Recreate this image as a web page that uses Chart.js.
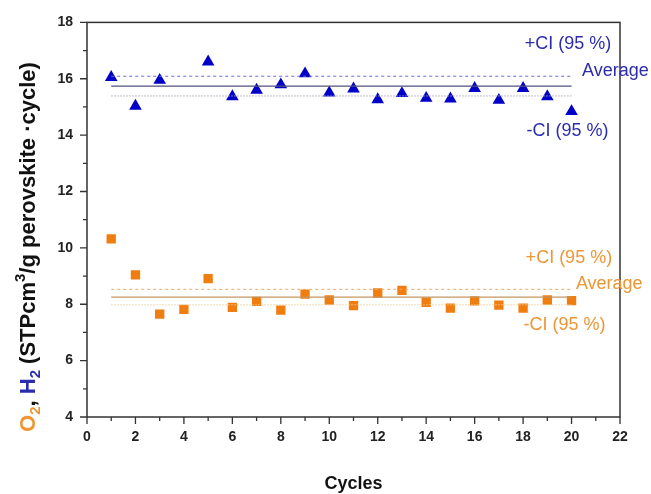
<!DOCTYPE html>
<html><head><meta charset="utf-8">
<script src="https://cdn.jsdelivr.net/npm/chart.js@4.4.0/dist/chart.umd.min.js"></script>
<style>html,body{margin:0;padding:0;background:#fff;}#wrap{width:651px;height:494px;}</style>
</head><body><div id="wrap"><canvas id="c" width="651" height="494"></canvas></div>
<script>
// ---- data ----
const cycles = [1,2,3,4,5,6,7,8,9,10,11,12,13,14,15,16,17,18,19,20];
const h2Values = [16.05,15.03,15.95,null,16.60,15.37,15.60,15.79,16.18,15.50,15.64,15.26,15.48,15.31,15.29,15.66,15.24,15.66,15.37,14.84];
const o2Values = [10.32,9.04,7.65,7.82,8.91,7.89,8.10,7.79,8.36,8.15,7.95,8.40,8.49,8.07,7.86,8.12,7.97,7.86,8.15,8.13];
const h2Stats = [16.09, 15.74, 15.39];   // +CI, average, -CI
const o2Stats = [8.53, 8.25, 7.98];
const statRange = [1, 20];
const xTicks = [0,2,4,6,8,10,12,14,16,18,20,22];
const yTicks = [4,6,8,10,12,14,16,18];
const statLabels = ['+CI (95 %)', 'Average', '-CI (95 %)'];
const xTitle = 'Cycles';

const BLUE = '#0000c8', BLUE_TXT = '#2c2cae';
const ORANGE = '#f07d10', ORANGE_TXT = '#ec9636';
const FONT = '"Liberation Sans", Arial, sans-serif';

function pts(vals){ return cycles.map((c,i)=>({x:c,y:vals[i]})); }
function hline(v){ return [{x:statRange[0],y:v},{x:statRange[1],y:v}]; }

const lineStyles = [
  {dash:[3,3], width:1},
  {dash:[], width:1.2},
  {dash:[1.5,1.5], width:1}
];
const h2LineColors = ['#6c6cd8','#505080','#a8a8b8'];
const o2LineColors = ['#f2a860','#c49660','#f2cc98'];

const datasets = [];
h2Stats.forEach((v,i)=>datasets.push({type:'line',data:hline(v),borderColor:h2LineColors[i],borderWidth:lineStyles[i].width,borderDash:lineStyles[i].dash,pointRadius:0,fill:false}));
o2Stats.forEach((v,i)=>datasets.push({type:'line',data:hline(v),borderColor:o2LineColors[i],borderWidth:lineStyles[i].width,borderDash:lineStyles[i].dash,pointRadius:0,fill:false}));
datasets.push({type:'scatter',data:pts(h2Values),pointStyle:'triangle',pointRadius:7.3,backgroundColor:BLUE,borderColor:BLUE,borderWidth:0});
datasets.push({type:'scatter',data:pts(o2Values),pointStyle:'rect',pointRadius:6.6,backgroundColor:ORANGE,borderColor:ORANGE,borderWidth:0});

// annotation text positions (data units)
const labelPlaces = [
  {text:statLabels[0], x:19.85, y:17.22, color:BLUE_TXT, align:'center'},
  {text:statLabels[1], x:20.43, y:16.27, color:BLUE_TXT, align:'left'},
  {text:statLabels[2], x:19.83, y:14.16, color:BLUE_TXT, align:'center'},
  {text:statLabels[0], x:19.89, y:9.64, color:ORANGE_TXT, align:'center'},
  {text:statLabels[1], x:20.18, y:8.73, color:ORANGE_TXT, align:'left'},
  {text:statLabels[2], x:19.71, y:7.28, color:ORANGE_TXT, align:'center'}
];

const decor = {
  id:'decor',
  afterDatasetsDraw(chart){
    const {ctx, chartArea:a, scales:{x,y}} = chart;
    ctx.save();
    // frame
    ctx.strokeStyle='#333'; ctx.lineWidth=1.5;
    ctx.strokeRect(a.left, a.top, a.right-a.left, a.bottom-a.top);
    // ticks
    ctx.lineWidth=1.3;
    ctx.beginPath();
    for(let v=x.min; v<=x.max; v++){
      const px=x.getPixelForValue(v); const L = xTicks.includes(v)?7:4;
      ctx.moveTo(px,a.bottom); ctx.lineTo(px,a.bottom+L);
    }
    for(let v=y.min; v<=y.max; v++){
      const py=y.getPixelForValue(v); const L = yTicks.includes(v)?7:4;
      ctx.moveTo(a.left,py); ctx.lineTo(a.left-L,py);
    }
    ctx.stroke();
    // annotation labels
    ctx.font='18px '+FONT; ctx.textBaseline='middle';
    labelPlaces.forEach(l=>{
      ctx.fillStyle=l.color; ctx.textAlign=l.align;
      ctx.fillText(l.text, x.getPixelForValue(l.x), y.getPixelForValue(l.y));
    });
    // x title
    ctx.fillStyle='#111'; ctx.font='bold 18px '+FONT; ctx.textAlign='center';
    ctx.fillText(xTitle, (a.left+a.right)/2, 484);
    // y title (multi-colour, rotated)
    const segs = [
      {t:'O', c:ORANGE_TXT, s:0}, {t:'2', c:ORANGE_TXT, s:-1},
      {t:', ', c:'#111', s:0},
      {t:'H', c:BLUE_TXT, s:0}, {t:'2', c:BLUE_TXT, s:-1},
      {t:' (STPcm', c:'#111', s:0}, {t:'3', c:'#111', s:1},
      {t:'/g perovskite \u00b7cycle)', c:'#111', s:0}
    ];
    const big='bold 22px '+FONT, small='bold 15px '+FONT;
    let total=0;
    segs.forEach(g=>{ctx.font=g.s?small:big; g.w=ctx.measureText(g.t).width; total+=g.w;});
    ctx.translate(35, 247); ctx.rotate(-Math.PI/2);
    ctx.textAlign='left'; ctx.textBaseline='alphabetic';
    let cx=-total/2;
    segs.forEach(g=>{
      ctx.font=g.s?small:big; ctx.fillStyle=g.c;
      const dy = g.s===-1?5:(g.s===1?-10:0);
      ctx.fillText(g.t, cx, dy); cx+=g.w;
    });
    ctx.restore();
  }
};

new Chart(document.getElementById('c'), {
  data:{datasets},
  options:{
    responsive:false, animation:false, devicePixelRatio:1,
    layout:{padding:{top:20,right:31,left:0,bottom:0}},
    plugins:{legend:{display:false}, tooltip:{enabled:false}},
    scales:{
      x:{type:'linear', min:0, max:22,
        afterBuildTicks(s){ s.ticks = xTicks.map(v=>({value:v})); },
        ticks:{font:{family:FONT,size:14,weight:'bold'}, color:'#222', padding:12, maxRotation:0},
        grid:{display:false, drawTicks:false, tickLength:0}, border:{display:false},
        afterFit(s){ s.height=77; }},
      y:{type:'linear', min:4, max:18,
        afterBuildTicks(s){ s.ticks = yTicks.map(v=>({value:v})); },
        ticks:{font:{family:FONT,size:14,weight:'bold'}, color:'#222', padding:14},
        grid:{display:false, drawTicks:false, tickLength:0}, border:{display:false},
        afterFit(s){ s.width=87; }}
    }
  },
  plugins:[decor]
});
</script></body></html>
